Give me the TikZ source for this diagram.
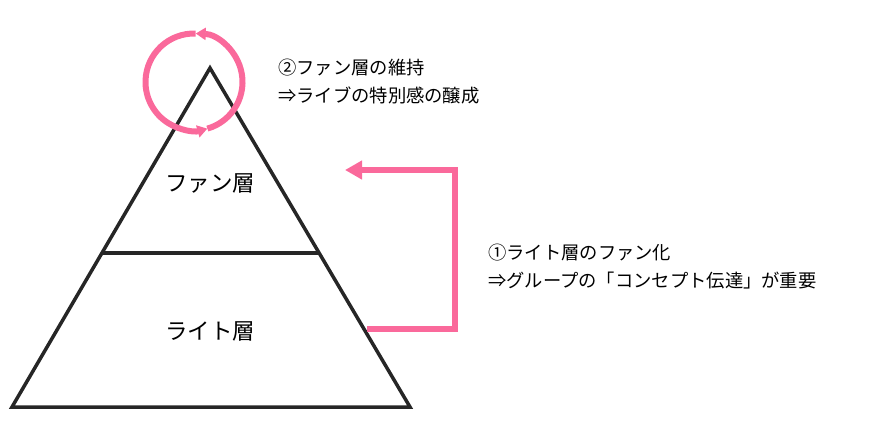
\documentclass[tikz,border=0pt]{standalone}
\usepackage{fontspec}
\newfontfamily\jp{Noto Sans CJK JP}
\usetikzlibrary{arrows.meta,positioning}
\definecolor{pinkline}{RGB}{250,105,155}
\definecolor{darkline}{RGB}{38,38,38}
\begin{document}
\begin{tikzpicture}[x=1pt, y=-1pt]
\tikzstyle{layer}=[line width=3.5pt, draw=darkline, line join=miter]
\tikzstyle{layertext}=[text centered, font=\jp\fontsize{22.5}{26}\selectfont]
\tikzstyle{notetext}=[anchor=north west, align=left, inner sep=0pt, font=\jp\fontsize{18.3}{27.5}\selectfont]
\tikzstyle{ring}=[line width=6pt, draw=pinkline, -{Triangle[length=10pt,width=12pt]}]
\tikzstyle{uplink}=[line width=6pt, draw=pinkline, -{Triangle[length=17pt,width=18pt]}]

\useasboundingbox (0,0) rectangle (869,442);

\coordinate (apex) at (210,68);
\coordinate (baseL) at (12,407);
\coordinate (baseR) at (410,407);
\coordinate (midL) at (102,253);
\coordinate (midR) at (318,253);
\coordinate (ringC) at (194,82);
\coordinate (lightout) at (367,329);
\coordinate (fanin) at (345,170);

\draw[layer] (apex) -- (baseR) -- (baseL) -- cycle;
\draw[layer] (midL) -- (midR);

\node[layertext] (fan) at (210,183) {ファン層};
\node[layertext] (light) at (210,331) {ライト層};

\draw[ring] (ringC) ++(88:48.5pt) arc[start angle=88, end angle=286, radius=48.5pt];
\draw[ring] (ringC) ++(286:48.5pt) arc[start angle=286, end angle=448, radius=48.5pt];

\draw[uplink] (lightout) -- ++(88,0) |- (fanin);

\node[notetext] (keep) at (278,59) {②ファン層の維持\\⇒ライブの特別感の醸成};
\node[notetext] (convert) at (488,244) {①ライト層のファン化\\⇒グループの「コンセプト伝達」が重要};
\end{tikzpicture}
\end{document}
